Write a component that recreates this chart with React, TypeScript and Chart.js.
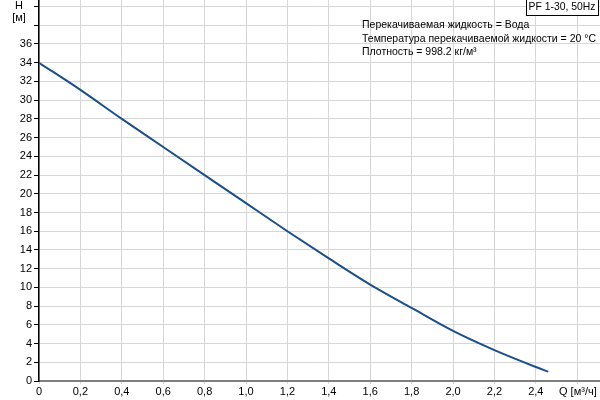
import React, { useEffect, useRef } from "react";
import { Chart, registerables } from "chart.js";

Chart.register(...registerables);

const flowValues = [0, 0.2, 0.4, 0.6, 0.8, 1.0, 1.2, 1.4, 1.6, 1.8, 2.0, 2.2, 2.4, 2.46];
const headValues = [34, 31.1, 28.0, 25.0, 22.0, 19.0, 16.0, 13.1, 10.3, 7.8, 5.35, 3.3, 1.5, 1.0];

const yAxisTitle = ["H", "[м]"];
const xAxisTitle = "Q [м³/ч]";
const infoLines = [
  "Перекачиваемая жидкость = Вода",
  "Температура перекачиваемой жидкости = 20 °C",
  "Плотность = 998.2 кг/м³",
];
const pumpLabel = "PF 1-30, 50Hz";

const FONT = "'Liberation Sans', Arial, sans-serif";

function fitText(ctx: CanvasRenderingContext2D, text: string, x: number, y: number, maxW: number) {
  const w = ctx.measureText(text).width;
  if (w <= maxW) {
    ctx.fillText(text, x, y);
    return;
  }
  ctx.save();
  ctx.translate(x, y);
  ctx.scale(maxW / w, 1);
  ctx.fillText(text, 0, 0);
  ctx.restore();
}

const textPlugin = {
  id: "textPlugin",
  afterDraw(chart: any) {
    const ctx = chart.ctx as CanvasRenderingContext2D;
    ctx.save();
    ctx.fillStyle = "#000";
    ctx.font = `11px ${FONT}`;
    ctx.textAlign = "center";
    ctx.textBaseline = "middle";
    ctx.fillText(yAxisTitle[0], 19, 6);
    ctx.fillText(yAxisTitle[1], 19, 18);

    ctx.textAlign = "left";
    fitText(ctx, xAxisTitle, 559, 392, 40);

    ctx.font = `10.5px ${FONT}`;
    infoLines.forEach((line, i) => {
      fitText(ctx, line, 362, 25.5 + i * 13.5, 234);
    });

    ctx.fillStyle = "#fff";
    ctx.fillRect(526, 0, 72, 15);
    ctx.strokeStyle = "#000";
    ctx.lineWidth = 1;
    ctx.strokeRect(526.5, -0.5, 72, 16);
    ctx.fillStyle = "#000";
    ctx.font = `10.5px ${FONT}`;
    fitText(ctx, pumpLabel, 528.5, 7.5, 67);
    ctx.restore();
  },
};

export default function App() {
  const canvasRef = useRef<HTMLCanvasElement | null>(null);

  useEffect(() => {
    if (!canvasRef.current) return;
    const chart = new Chart(canvasRef.current, {
      type: "line",
      data: {
        datasets: [
          {
            data: flowValues.map((q, i) => ({ x: q, y: headValues[i] })),
            borderColor: "#1a4f8a",
            borderWidth: 2,
            pointRadius: 0,
            fill: false,
            cubicInterpolationMode: "monotone",
          },
        ],
      },
      options: {
        animation: false,
        responsive: false,
        layout: { padding: 0 },
        plugins: { legend: { display: false }, tooltip: { enabled: false } },
        scales: {
          x: {
            type: "linear",
            min: 0,
            max: 2.71,
            afterFit: (scale: any) => {
              scale.height = 19;
              scale.paddingLeft = 0;
              scale.paddingRight = 0;
            },
            ticks: {
              stepSize: 0.2,
              includeBounds: false,
              padding: 1,
              maxRotation: 0,
              autoSkip: false,
              color: "#000",
              font: { family: FONT, size: 11 },
              callback: (v: any) => {
                const r = Math.round(Number(v) * 10) / 10;
                if (r > 2.5) return "";
                if (r === 0) return "0";
                return r.toFixed(1).replace(".", ",");
              },
            },
            grid: {
              color: "#d6d6d6",
              lineWidth: 1,
              tickLength: 3,
              tickColor: "#d6d6d6",
            },
            border: { color: "#7f7f7f", width: 2 },
          },
          y: {
            type: "linear",
            min: 0,
            max: 40.7,
            afterFit: (scale: any) => {
              scale.width = 39;
              scale.paddingTop = 0;
              scale.paddingBottom = 0;
            },
            ticks: {
              stepSize: 2,
              includeBounds: false,
              padding: 2,
              color: "#000",
              font: { family: FONT, size: 11 },
              callback: (v: any) => (Number(v) > 36 ? "" : String(v)),
            },
            grid: {
              color: "#d6d6d6",
              lineWidth: 1,
              tickLength: 5,
              tickColor: "#000",
            },
            border: { color: "#000", width: 1.5 },
          },
        },
      },
      plugins: [textPlugin],
    } as any);
    return () => chart.destroy();
  }, []);

  return (
    <div style={{ position: "fixed", left: 0, top: 0, width: 600, height: 400, background: "#fff" }}>
      <canvas ref={canvasRef} width={600} height={400} />
    </div>
  );
}
